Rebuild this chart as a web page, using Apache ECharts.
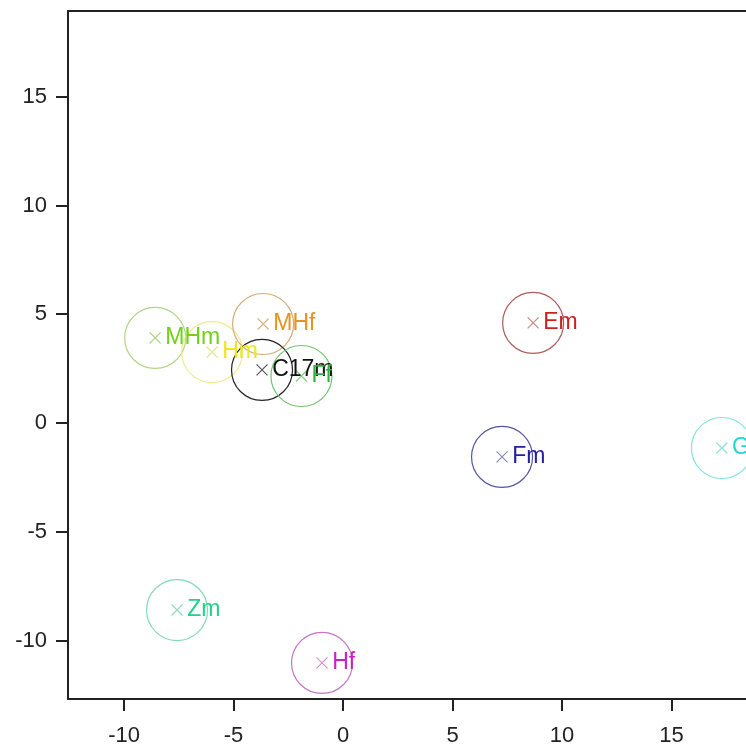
<!DOCTYPE html>
<html>
<head>
<meta charset="utf-8">
<script src="https://cdn.jsdelivr.net/npm/echarts@6/dist/echarts.min.js"></script>
<style>
html,body{margin:0;padding:0;background:#fff;}
#main{width:746px;height:747px;}
</style>
</head>
<body>
<div id="main"></div>
<script>
// Data
const names = ['MHm', 'Hm', 'MHf', 'C17m', 'Ff', 'Em', 'Fm', 'G', 'Zm', 'Hf'];
const xValues = [-8.58, -5.98, -3.65, -3.70, -1.90, 8.68, 7.26, 17.3, -7.58, -0.96];
const yValues = [3.91, 3.26, 4.55, 2.44, 2.16, 4.60, -1.56, -1.15, -8.60, -11.03];
const xTicks = [-10, -5, 0, 5, 10, 15];
const yTicks = [-10, -5, 0, 5, 10, 15];

// Styles
const labelColors = ['#72d01c', '#eee622', '#e8931f', '#111111', '#30b040', '#cc1f1f', '#2020a8', '#1fd6d6', '#1fd18a', '#cc1fcc'];
const circleColors = ['#b2d685', '#ecec90', '#d4ab74', '#222222', '#72c672', '#b05a5a', '#5555a4', '#84e2e2', '#84dab6', '#c476c4'];
const markerColors = ['#a8d47a', '#e4e488', '#d8b88a', '#555555', '#88cc88', '#c88888', '#8888c0', '#8ae0e0', '#90dcc0', '#d090d0'];

const chart = echarts.init(document.getElementById('main'), null, {renderer: 'canvas'});
const pts = names.map((n, i) => [xValues[i], yValues[i], n]);

const font = 'Liberation Sans, Arial, sans-serif';
const axisCommon = {
  type: 'value',
  axisLine: {show: true, onZero: false, lineStyle: {color: '#222', width: 2}},
  axisTick: {show: true, inside: false, length: 12, lineStyle: {color: '#222', width: 2}},
  splitLine: {show: false},
  axisLabel: {color: '#222', fontSize: 22, fontFamily: font}
};

chart.setOption({
  backgroundColor: '#ffffff',
  animation: false,
  grid: {left: 68, top: 11, right: 0, bottom: 48, show: false, containLabel: false},
  xAxis: [
    Object.assign({}, axisCommon, {
      min: -12.56, max: 18.4,
      axisTick: Object.assign({}, axisCommon.axisTick, {customValues: xTicks}),
      axisLabel: Object.assign({}, axisCommon.axisLabel, {customValues: xTicks, margin: 26})
    }),
    {
      type: 'value', position: 'top', min: -12.56, max: 18.4,
      axisLine: {show: true, onZero: false, lineStyle: {color: '#222', width: 2}},
      axisTick: {show: false}, axisLabel: {show: false}, splitLine: {show: false}
    }
  ],
  yAxis: Object.assign({}, axisCommon, {
    min: -12.69, max: 18.94,
    axisTick: Object.assign({}, axisCommon.axisTick, {customValues: yTicks}),
    axisLabel: Object.assign({}, axisCommon.axisLabel, {customValues: yTicks, margin: 21})
  }),
  series: [
    {
      type: 'scatter',
      name: 'circles',
      symbol: 'circle',
      symbolSize: 61,
      silent: true,
      itemStyle: {opacity: 1},
      data: pts.map((p, i) => ({
        value: p,
        itemStyle: {color: 'rgba(0,0,0,0)', borderColor: circleColors[i], borderWidth: 1.2, opacity: 1}
      })),
      z: 2
    },
    {
      type: 'scatter',
      name: 'markers',
      symbol: 'path://M0,0L10,10M10,0L0,10',
      symbolSize: 11,
      itemStyle: {opacity: 1},
      data: pts.map((p, i) => ({
        value: p,
        itemStyle: {color: 'rgba(0,0,0,0)', borderColor: markerColors[i], borderWidth: 1.2, opacity: 1},
        label: {
          show: true,
          position: 'right',
          distance: 4,
          formatter: p[2],
          color: labelColors[i],
          opacity: 1,
          fontSize: 23,
          fontFamily: font
        }
      })),
      z: 3
    }
  ]
});
</script>
</body>
</html>
